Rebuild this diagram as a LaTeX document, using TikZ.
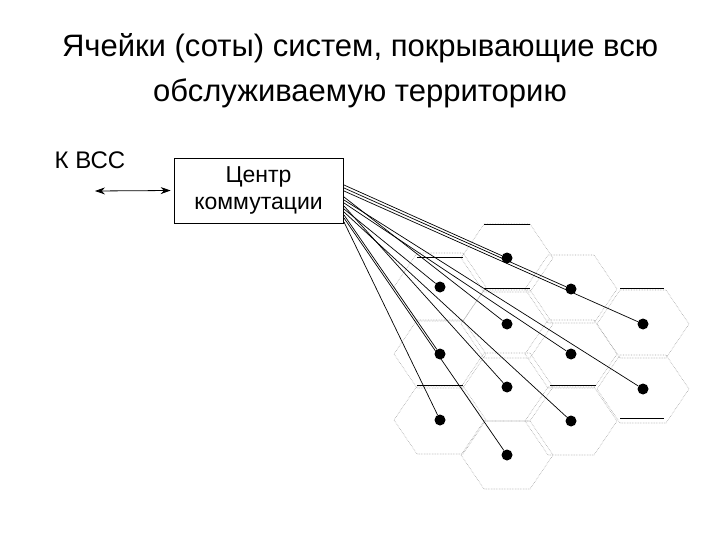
\documentclass[tikz,border=0pt]{standalone}
\usepackage{fontspec}
\usetikzlibrary{arrows.meta}
\setmainfont{Liberation Sans}
\begin{document}
\begin{tikzpicture}[x=1pt,y=-1pt,
  hex/.style={draw=black!35,line width=0.6pt,densely dotted},
  dot/.style={circle,fill=black,inner sep=0pt,minimum size=11pt},
  wire/.style={draw=black,line width=0.7pt},
  box/.style={draw,line width=0.7pt,minimum width=169pt,minimum height=65pt,align=center,inner sep=0pt,font=\fontsize{23}{27}\selectfont}]
\useasboundingbox (0,0) rectangle (720,540);
\node (t1) at (360,48) [font=\fontsize{31}{36}\selectfont] {Ячейки (соты) систем, покрывающие всю};
\node (t2) at (360,93) [font=\fontsize{31}{36}\selectfont] {обслуживаемую территорию};
\node (k) at (90,160) [font=\fontsize{24}{28}\selectfont] {К ВСС};
\node (c) at (258.5,190.5) [box] {Центр\\коммутации};
\coordinate (kk) at (95,191);
\draw[{Stealth[length=10pt,width=7pt]}-{Stealth[length=10pt,width=7pt]},line width=0.8pt] (kk) -- ([xshift=-3pt]c.west);
\foreach \n/\x/\y in {a/507/258,b/571/289,cc/643/324,d/440/287,e/507/324,f/571/354,g/643/389,h/440/354,i/507/387,j/571/421,l/440/420,m/507/455}{
  \draw[hex] (\x-23,\y-34) -- (\x+23,\y-34) -- (\x+46,\y) -- (\x+23,\y+34) -- (\x-23,\y+34) -- (\x-46,\y) -- cycle;
  \node[dot] (\n) at (\x,\y) {};
}
\draw[line width=0.6pt] (484,224) -- (530,224) (417,257) -- (463,257) (484,288) -- (530,288) (620,288) -- (664,288) (417,385) -- (463,385) (550,385) -- (596,385) (620,418) -- (664,418);
\foreach \n/\s in {a/185,b/188,cc/191,e/197,g/200,f/203,i/206,d/209,j/212,h/215,m/218,l/222}{
  \coordinate (s\n) at (344,\s);
  \draw[wire] (s\n) -- (\n);
}
\end{tikzpicture}
\end{document}
